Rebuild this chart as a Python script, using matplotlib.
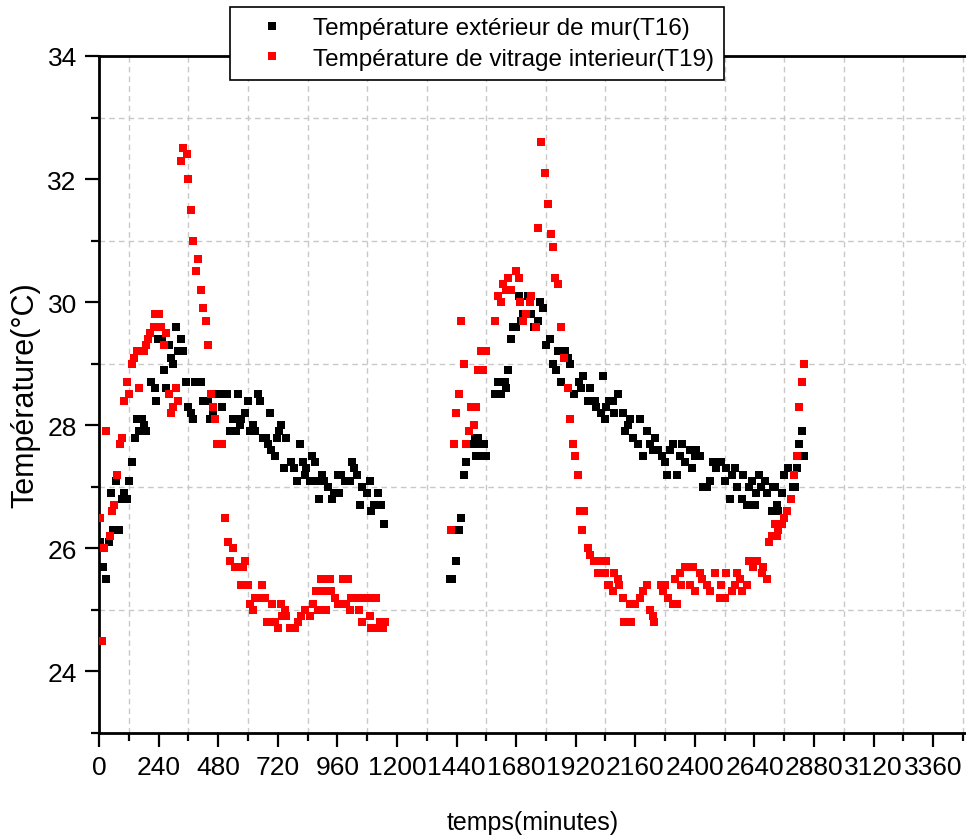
import matplotlib
matplotlib.use("Agg")
import matplotlib.pyplot as plt
from matplotlib.ticker import MultipleLocator

plt.rcParams['font.family'] = ['Liberation Sans', 'DejaVu Sans']

# T16 - exterior wall temperature (black)
t16_time = [3, 12, 18, 28, 40, 47, 57, 68, 70, 82, 93, 100, 112, 120, 131, 144, 153, 160,
            168, 173, 180, 191, 211, 224, 231, 236, 246, 253, 260, 271, 283, 291, 300, 311,
            320, 329, 340, 351, 360, 369, 380, 387, 400, 411, 420, 440, 447, 460, 483, 497,
            517, 527, 540, 547, 553, 560, 567, 573, 587, 600, 607, 620, 627, 640, 647, 660,
            673, 680, 687, 694, 707, 718, 725, 734, 747, 754, 774, 787, 798, 808, 821, 828,
            835, 848, 857, 868, 875, 888, 898, 908, 922, 938, 948, 962, 968, 975, 989, 1009,
            1018, 1029, 1040, 1052, 1060, 1079, 1090, 1096, 1107, 1123, 1136, 1147,
            1413, 1423, 1439, 1450, 1459, 1469, 1480, 1506, 1513, 1520, 1526, 1533, 1540,
            1549, 1560, 1594, 1607, 1620, 1634, 1638, 1647, 1658, 1667, 1681, 1690, 1701,
            1708, 1728, 1741, 1754, 1768, 1778, 1788, 1801, 1817, 1828, 1839, 1848, 1862,
            1875, 1888, 1899, 1913, 1933, 1942, 1949, 1969, 1976, 1996, 2002, 2022, 2029,
            2036, 2043, 2056, 2070, 2076, 2090, 2110, 2117, 2130, 2137, 2150, 2171, 2177,
            2191, 2208, 2218, 2232, 2238, 2252, 2266, 2279, 2288, 2299, 2312, 2328, 2339,
            2348, 2359, 2379, 2390, 2399, 2406, 2420, 2433, 2447, 2460, 2474, 2487, 2507,
            2520, 2527, 2541, 2548, 2561, 2568, 2588, 2594, 2608, 2619, 2632, 2642, 2648,
            2659, 2668, 2682, 2689, 2709, 2715, 2723, 2729, 2736, 2749, 2759, 2776, 2794,
            2803, 2810, 2821, 2830, 2840]
t16_temp = [26.1, 25.7, 25.7, 25.5, 26.1, 26.9, 26.3, 27.1, 26.3, 26.3, 26.8, 26.9, 26.8, 27.1,
            27.4, 27.8, 28.1, 27.9, 28.1, 28.1, 28.0, 27.9, 28.7, 28.6, 28.4, 29.4, 29.4, 29.4,
            28.9, 28.6, 29.3, 29.1, 29.0, 29.6, 29.2, 29.4, 29.2, 28.7, 28.3, 28.2, 28.1, 28.7,
            28.7, 28.7, 28.4, 28.4, 28.1, 28.2, 28.5, 28.3, 28.5, 27.9, 28.1, 27.9, 27.9, 28.5,
            28.0, 28.1, 28.2, 28.4, 27.9, 28.0, 27.9, 28.5, 28.4, 27.8, 27.8, 27.7, 28.2, 27.6,
            27.5, 27.8, 27.9, 28.0, 27.3, 27.8, 27.4, 27.3, 27.1, 27.7, 27.4, 27.2, 27.3, 27.1,
            27.5, 27.4, 27.1, 26.8, 27.2, 27.1, 27.0, 26.8, 26.9, 27.2, 26.9, 27.2, 27.1, 27.1,
            27.4, 27.3, 27.2, 26.7, 27.0, 26.9, 27.1, 26.6, 26.7, 26.9, 26.7, 26.4,
            25.5, 25.5, 25.8, 26.3, 26.5, 27.2, 27.4, 27.7, 27.8, 27.5, 27.8, 27.7, 27.5,
            27.7, 27.5, 28.5, 28.7, 28.5, 28.7, 28.6, 28.9, 29.4, 29.6, 29.6, 30.1, 29.7,
            29.8, 30.1, 29.8, 29.6, 29.7, 30.0, 29.9, 29.3, 29.4, 29.0, 28.9, 29.2, 28.7,
            29.2, 29.1, 29.0, 28.5, 28.7, 28.6, 28.8, 28.4, 28.6, 28.4, 28.3, 28.2, 28.8,
            28.1, 28.3, 28.4, 28.4, 28.2, 28.5, 28.2, 27.9, 28.0, 28.1, 27.8, 27.7, 28.1,
            27.5, 27.9, 27.7, 27.6, 27.8, 27.6, 27.5, 27.4, 27.2, 27.6, 27.7, 27.2, 27.5,
            27.7, 27.4, 27.6, 27.3, 27.5, 27.6, 27.5, 27.0, 27.0, 27.1, 27.4, 27.3, 27.4,
            27.1, 27.3, 26.8, 27.2, 27.3, 27.0, 26.8, 27.2, 26.7, 27.0, 27.1, 26.7, 26.9,
            27.2, 27.0, 27.1, 26.9, 26.6, 27.0, 27.0, 26.7, 26.6, 26.9, 27.2, 27.3, 27.0,
            27.0, 27.3, 27.7, 27.9, 27.5]

# T19 - interior glazing temperature (red)
t19_time = [3, 12, 19, 27, 43, 51, 60, 71, 83, 91, 100, 111, 120, 131, 140, 153, 160, 170,
            180, 189, 197, 207, 220, 227, 240, 251, 260, 271, 280, 291, 300, 311, 320, 329,
            340, 353, 360, 369, 380, 389, 400, 411, 420, 429, 440, 451, 460, 469, 474, 483,
            494, 509, 520, 529, 540, 547, 560, 570, 580, 587, 601, 608, 621, 628, 640, 655,
            668, 675, 685, 695, 708, 721, 735, 738, 748, 755, 768, 778, 788, 802, 815, 828,
            848, 862, 875, 882, 895, 902, 909, 916, 929, 936, 949, 963, 983, 990, 996, 1003,
            1010, 1016, 1030, 1047, 1050, 1060, 1070, 1090, 1097, 1100, 1117, 1125, 1130,
            1144, 1151,
            1419, 1429, 1439, 1450, 1459, 1469, 1480, 1489, 1500, 1509, 1520, 1526, 1540,
            1547, 1560, 1594, 1607, 1620, 1627, 1640, 1647, 1661, 1681, 1690, 1694, 1707,
            1718, 1734, 1740, 1761, 1768, 1779, 1795, 1808, 1819, 1828, 1835, 1848, 1859,
            1872, 1889, 1899, 1909, 1918, 1929, 1939, 1946, 1955, 1969, 1978, 1992, 2009,
            2016, 2029, 2036, 2043, 2049, 2056, 2070, 2076, 2090, 2096, 2110, 2113, 2130,
            2137, 2143, 2157, 2177, 2191, 2208, 2218, 2232, 2237, 2265, 2272, 2279, 2292,
            2312, 2319, 2326, 2339, 2346, 2359, 2379, 2393, 2400, 2420, 2427, 2447, 2460,
            2480, 2500, 2507, 2521, 2527, 2548, 2561, 2568, 2581, 2588, 2608, 2619, 2635,
            2649, 2669, 2675, 2689, 2700, 2709, 2723, 2729, 2736, 2750, 2759, 2772, 2786,
            2801, 2813, 2821, 2830, 2840]
t19_temp = [26.5, 24.5, 26.0, 27.9, 26.2, 26.6, 26.7, 27.2, 27.7, 27.8, 28.4, 28.7, 28.5, 29.0,
            29.1, 29.2, 28.6, 29.2, 29.2, 29.3, 29.4, 29.5, 29.6, 29.8, 29.8, 29.6, 29.3, 29.5,
            28.5, 28.2, 28.3, 28.6, 28.4, 32.3, 32.5, 32.4, 32.0, 31.5, 31.0, 30.5, 30.7, 30.2,
            29.9, 29.7, 29.3, 28.5, 28.3, 28.1, 27.7, 27.7, 27.7, 26.5, 26.1, 25.8, 26.0, 25.7,
            25.7, 25.4, 25.7, 25.8, 25.4, 25.1, 25.0, 25.2, 25.2, 25.4, 25.2, 24.8, 24.8, 25.1,
            24.8, 24.7, 25.1, 24.9, 25.0, 24.9, 24.7, 24.7, 24.7, 24.8, 24.9, 25.0, 24.9, 25.1,
            25.3, 25.0, 25.5, 25.3, 25.5, 25.0, 25.5, 25.3, 25.2, 25.1, 25.5, 25.1, 25.1, 25.5,
            25.0, 25.2, 25.2, 25.0, 25.2, 24.8, 25.2, 24.9, 24.7, 25.2, 25.2, 24.7, 24.8,
            24.7, 24.8,
            26.3, 27.7, 28.2, 28.5, 29.7, 29.0, 27.7, 27.9, 28.3, 28.0, 28.3, 28.9, 29.2,
            28.9, 29.2, 29.7, 30.1, 30.0, 30.3, 30.2, 30.4, 30.2, 30.5, 30.4, 30.0, 29.7,
            29.8, 30.0, 30.1, 29.6, 31.2, 32.6, 32.1, 31.6, 31.1, 30.9, 30.4, 30.3, 29.6,
            29.1, 28.6, 28.1, 27.7, 27.5, 27.2, 26.6, 26.3, 26.6, 26.0, 25.9, 25.8, 25.6,
            25.8, 25.8, 25.6, 25.8, 25.4, 25.4, 25.3, 25.6, 25.5, 25.4, 25.2, 24.8, 24.8,
            25.1, 24.8, 25.1, 25.2, 25.3, 25.4, 25.0, 24.9, 24.8, 25.4, 25.3, 25.4, 25.2,
            25.1, 25.5, 25.1, 25.6, 25.4, 25.7, 25.4, 25.7, 25.3, 25.6, 25.5, 25.4, 25.3,
            25.6, 25.2, 25.4, 25.2, 25.6, 25.3, 25.4, 25.6, 25.5, 25.3, 25.4, 25.8, 25.7,
            25.8, 25.6, 25.7, 25.5, 26.1, 26.2, 26.4, 26.2, 26.3, 26.4, 26.5, 26.6, 26.8,
            27.2, 27.5, 28.3, 28.7, 29.0]

labels = ["Température extérieur de mur(T16)", "Température de vitrage interieur(T19)"]
x_ticks = [0, 240, 480, 720, 960, 1200, 1440, 1680, 1920, 2160, 2400, 2640, 2880, 3120, 3360]

fig = plt.figure(figsize=(9.66, 8.37), dpi=100)
ax = fig.add_axes([99 / 966, 103 / 837, 1 - 99 / 966, 677 / 837])

ax.plot(t16_time, t16_temp, linestyle='none', marker='s', markersize=5.8,
        markeredgewidth=0, color='#000000', label=labels[0], zorder=3)
ax.plot(t19_time, t19_temp, linestyle='none', marker='s', markersize=5.8,
        markeredgewidth=0, color='#ff0000', label=labels[1], zorder=3)

ax.set_xlim(0, 3492)
ax.set_ylim(23, 34)
ax.set_xticks(x_ticks)
ax.xaxis.set_minor_locator(MultipleLocator(120))
ax.yaxis.set_major_locator(MultipleLocator(2))
ax.yaxis.set_minor_locator(MultipleLocator(1))

# grid only on minor ticks, like the Origin export
ax.grid(which='minor', color='#c8c8c8', linestyle=(0, (4, 3)), linewidth=1.0)
ax.grid(which='major', visible=False)
ax.set_axisbelow(True)

for side in ['left', 'bottom', 'top']:
    ax.spines[side].set_linewidth(2.0)
ax.spines['right'].set_visible(False)

ax.tick_params(which='major', direction='out', length=10, width=1.6, labelsize=19, pad=6)
ax.tick_params(which='minor', direction='out', length=5.5, width=1.6)
ax.tick_params(top=False, right=False, which='both')

ax.set_xlabel("temps(minutes)", fontsize=18, labelpad=22)
ax.set_ylabel("Température(°C)", fontsize=22, labelpad=5)

leg = ax.legend(loc='upper left', bbox_to_anchor=(230 / 966, 1 - 8 / 837),
                bbox_transform=fig.transFigure, fontsize=17.5, frameon=True,
                fancybox=False, framealpha=1, edgecolor='black', borderpad=0.42,
                handlelength=2.6, handletextpad=0.4, labelspacing=0.35, borderaxespad=0)
leg.get_frame().set_linewidth(1.2)
leg.set_zorder(10)

fig.savefig("out.png", dpi=100)
